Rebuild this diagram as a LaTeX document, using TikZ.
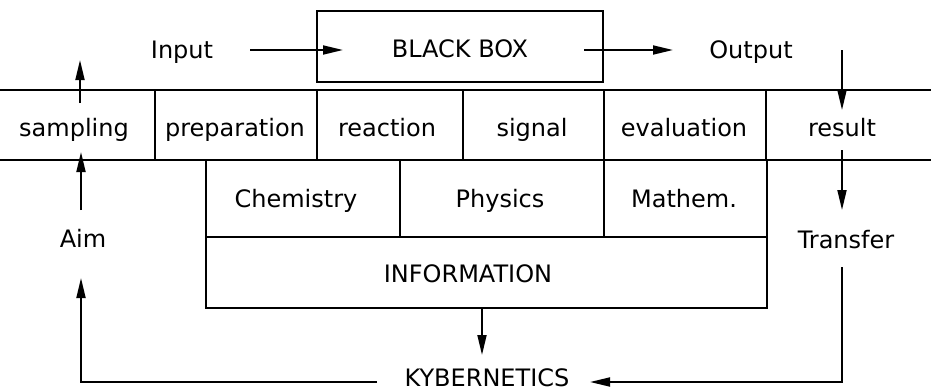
\documentclass[tikz,border=0pt]{standalone}
\usepackage{fontspec}
\setmainfont{DejaVu Sans}
\usetikzlibrary{arrows.meta}
\begin{document}
\begin{tikzpicture}[x=1pt,y=-1pt,
  font=\fontsize{24}{28}\selectfont,
  line width=1.8pt,
  arr/.style={-{Triangle[length=20pt,width=9pt]}},
  lbl/.style={anchor=base, inner sep=0pt}]
\useasboundingbox (0,0) rectangle (931,391);

% black box
\node[draw, minimum width=286pt, minimum height=71pt, inner sep=0pt] (bb) at (460,46.5) {};
\node[lbl] (bbt) at (460,57) {BLACK BOX};
\node[lbl] (input) at (182,58) {Input};
\node[lbl] (output) at (751,58) {Output};
\coordinate (inA) at (250,50);
\coordinate (inB) at (343,50);
\coordinate (outA) at (584,50);
\coordinate (outB) at (673,50);
\draw[arr] (inA) -- (inB);
\draw[arr] (outA) -- (outB);

% band
\draw (0,90) -- (931,90);
\draw (0,160) -- (931,160);
\foreach \x in {155,317,463,604,766} \draw (\x,90) -- (\x,160);
\node[lbl] (sampling) at (74,136) {sampling};
\node[lbl] (preparation) at (235,136) {preparation};
\node[lbl] (reaction) at (387,136) {reaction};
\node[lbl] (signal) at (532,136) {signal};
\node[lbl] (evaluation) at (684,136) {evaluation};
\node[lbl] (result) at (842,136) {result};

% lower box
\draw (206,160) -- (206,308) -- (767,308) -- (767,160);
\draw (206,237) -- (767,237);
\draw (400,160) -- (400,237);
\draw (604,160) -- (604,237);
\node[lbl] (chem) at (296,207) {Chemistry};
\node[lbl] (phys) at (500,207) {Physics};
\node[lbl] (math) at (684,207) {Mathem.};
\node[lbl] (info) at (468,282) {INFORMATION};

% side labels
\node[lbl] (aim) at (83,247) {Aim};
\node[lbl] (transfer) at (846,248) {Transfer};
\node[lbl] (kyb) at (487,386) {KYBERNETICS};

% arrow endpoints
\coordinate (sA) at (80,103);
\coordinate (sB) at (80,60);
\coordinate (aA) at (81,210);
\coordinate (aB) at (81,152);
\coordinate (kA) at (377,382);
\coordinate (kB) at (81,278);
\coordinate (oA) at (842,50);
\coordinate (oB) at (842,110);
\coordinate (rA) at (842,150);
\coordinate (rB) at (842,210);
\coordinate (tA) at (842,267);
\coordinate (tB) at (590,382);
\coordinate (iA) at (482,308);
\coordinate (iB) at (482,355);

\draw[arr] (sA) -- (sB);
\draw[arr] (aA) -- (aB);
\draw[arr] (kA) -| (kB);
\draw[arr] (oA) -- (oB);
\draw[arr] (rA) -- (rB);
\draw[arr] (tA) |- (tB);
\draw[arr] (iA) -- (iB);
\end{tikzpicture}
\end{document}
